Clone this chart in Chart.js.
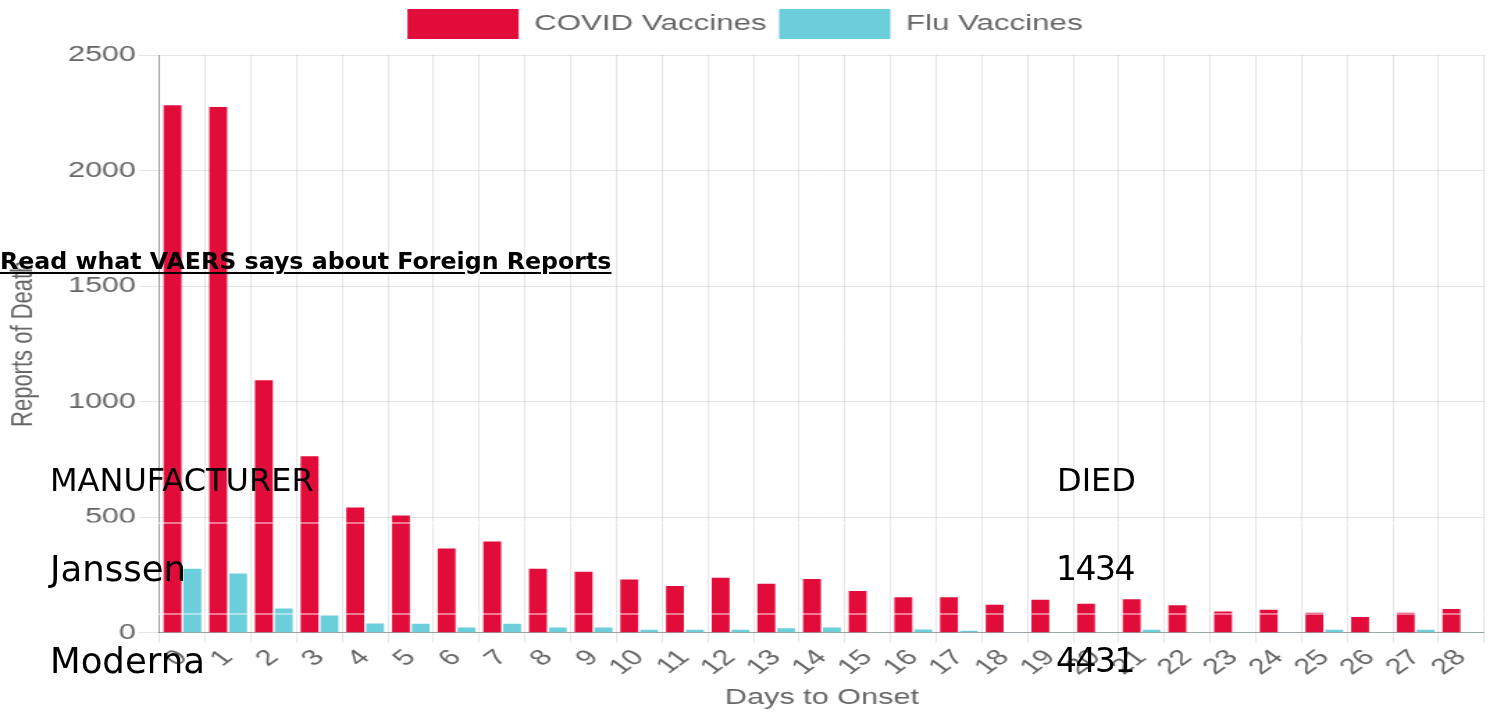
<!DOCTYPE html>
<html>
<head>
<meta charset="utf-8">
<script src="https://cdn.jsdelivr.net/npm/chart.js@4.4.1/dist/chart.umd.min.js"></script>
<style>
  html, body { margin: 0; padding: 0; background: #fff; }
  body { width: 1490px; height: 714px; overflow: hidden; position: relative; }
  #wrap { position: absolute; left: 0; top: 0; width: 1072px; height: 714px;
          transform: scaleX(1.39); transform-origin: 0 0; }
  .ov { position: absolute; font-family: "DejaVu Sans", sans-serif; color: #000;
        line-height: 1; white-space: nowrap; }
  .link { font-weight: bold; font-size: 23.7px; text-decoration: underline;
          text-decoration-thickness: 2px; text-underline-offset: 3px; }
  .hd { font-size: 32px; }
  .nm { font-size: 35.5px; }
  .val { font-size: 33px; letter-spacing: -1.5px; }
  .rule { position: absolute; left: 0; width: 1490px; height: 2px; background: rgba(255,255,255,0.45); }
</style>
</head>
<body>
<div id="wrap"><canvas id="c"></canvas></div>
<div class="rule" style="top:522px"></div>
<div class="rule" style="top:613px"></div>
<div class="ov link" style="left:0px; top:250px;">Read what VAERS says about Foreign Reports</div>
<div class="ov hd" style="left:50px; top:464px;">MANUFACTURER</div>
<div class="ov hd" style="left:1057px; top:464px;">DIED</div>
<div class="ov nm" style="left:50px; top:551px;">Janssen</div>
<div class="ov val" style="left:1056px; top:552px;">1434</div>
<div class="ov nm" style="left:50px; top:643px;">Moderna</div>
<div class="ov val" style="left:1056px; top:644px;">4431</div>
<script>
const days = ['0','1','2','3','4','5','6','7','8','9','10','11','12','13','14','15','16','17','18','19','20','21','22','23','24','25','26','27','28'];
const covidDeaths = [2283, 2275, 1092, 763, 542, 507, 364, 394, 277, 264, 230, 202, 238, 212, 232, 180, 153, 153, 121, 142, 125, 145, 119, 91, 99, 86, 68, 86, 102];
const fluDeaths = [277, 256, 104, 74, 39, 38, 22, 38, 22, 22, 13, 12, 12, 19, 22, 3, 14, 8, 3, 3, 3, 13, 3, 3, 3, 13, 3, 12, 3];
const yTicks = [0, 500, 1000, 1500, 2000, 2500];
const seriesNames = ['COVID Vaccines', 'Flu Vaccines'];

const FONT = "'Liberation Sans', Arial, Helvetica, sans-serif";
const GREY = '#666';

const legendMargin = {
  id: 'legendMargin',
  beforeInit(chart) {
    const orig = chart.legend.fit;
    chart.legend.fit = function () {
      orig.bind(chart.legend)();
      this.height += 6;
    };
  },
  afterLayout(chart) {
    chart.legend.right -= 10;
    chart.legend.width -= 10;
  }
};

new Chart(document.getElementById('c'), {
  type: 'bar',
  data: {
    labels: days,
    datasets: [
      { label: seriesNames[0], data: covidDeaths, backgroundColor: '#e20c3a', borderWidth: 0,
        categoryPercentage: 0.87, barPercentage: 0.9 },
      { label: seriesNames[1], data: fluDeaths, backgroundColor: '#6ccedb', borderWidth: 0,
        categoryPercentage: 0.87, barPercentage: 0.9 }
    ]
  },
  options: {
    responsive: true,
    maintainAspectRatio: false,
    animation: false,
    layout: { padding: { left: 0, right: -10, top: 0, bottom: 0 } },
    plugins: {
      legend: {
        labels: { boxWidth: 80, boxHeight: 30, padding: 9, color: GREY,
                  font: { size: 22.5, family: FONT } }
      },
      tooltip: { enabled: false }
    },
    scales: {
      x: {
        grid: { color: 'rgba(0,0,0,0.1)', tickLength: 10 },
        border: { color: 'rgba(0,0,0,0.3)' },
        ticks: { color: GREY, font: { size: 22, family: FONT }, minRotation: 45, maxRotation: 45,
                 padding: 2, autoSkip: false },
        title: { display: true, text: 'Days to Onset', color: GREY, font: { size: 22, family: FONT },
                 padding: { top: 2, bottom: 3 } }
      },
      y: {
        min: yTicks[0], max: yTicks[yTicks.length - 1],
        afterBuildTicks(axis) { axis.ticks = yTicks.map(v => ({ value: v })); },
        grid: { color: 'rgba(0,0,0,0.1)', tickLength: 15 },
        border: { color: 'rgba(0,0,0,0.3)' },
        ticks: { color: GREY, font: { size: 22, family: FONT }, padding: 2,
                 callback: (v) => String(v) },
        title: { display: true, text: 'Reports of Death', color: GREY, font: { size: 22, family: FONT },
                 padding: { top: 4, bottom: 16.5 } }
      }
    }
  },
  plugins: [legendMargin]
});
</script>
</body>
</html>
